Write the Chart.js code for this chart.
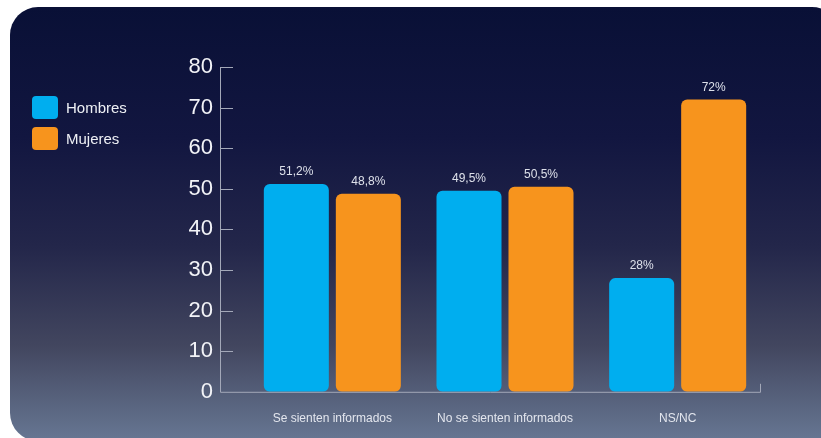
<!DOCTYPE html>
<html>
<head>
<meta charset="utf-8">
<script src="https://cdn.jsdelivr.net/npm/chart.js@4"></script>
<style>
  html, body { margin: 0; padding: 0; background: #fff; }
  #wrap { position: relative; width: 821px; height: 438px; overflow: hidden; }
  #panel {
    position: absolute; left: 10px; top: 7px; width: 830px; height: 434px;
    border-radius: 28px;
    background: linear-gradient(to bottom, #091036 0%, #121640 30%, #23264a 55%, #42465f 78%, #677793 100%);
  }
  #chart { position: absolute; left: 0; top: 0; }
  #legend { position: absolute; left: 32px; top: 96px; font-family: "Liberation Sans", Arial, sans-serif; font-size: 15px; color: #eef0f5; }
  .item { display: flex; align-items: center; height: 23px; margin-bottom: 8px; }
  .box { width: 26px; height: 23px; border-radius: 4px; margin-right: 8px; }
</style>
</head>
<body>
<div id="wrap">
  <div id="panel"></div>
  <canvas id="chart" width="821" height="438"></canvas>
  <div id="legend"></div>
</div>
<script>
var categories = ["Se sienten informados", "No se sienten informados", "NS/NC"];
var hombres = [51.2, 49.5, 28];
var mujeres = [48.8, 50.5, 72];
var yTicks = [0, 10, 20, 30, 40, 50, 60, 70, 80];

var colorH = "#00aeef";
var colorM = "#f7941d";
var axisColor = "#a3a8b8";

function pct(v){
  return String(v).replace(".", ",") + "%";
}

// y axis line, inward ticks and x axis line, drawn off the scales
var axisLines = {
  id: "axisLines",
  afterDraw: function(chart){
    var ctx = chart.ctx, y = chart.scales.y, area = chart.chartArea;
    var x0 = area.left - 26, xEnd = area.right - 4;
    ctx.save();
    ctx.strokeStyle = axisColor;
    ctx.lineWidth = 1;
    ctx.beginPath();
    ctx.moveTo(x0 + 0.5, y.getPixelForValue(80));
    ctx.lineTo(x0 + 0.5, y.getPixelForValue(0) + 0.5);
    ctx.lineTo(xEnd + 0.5, y.getPixelForValue(0) + 0.5);
    ctx.lineTo(xEnd + 0.5, y.getPixelForValue(0) - 8);
    yTicks.forEach(function(t){
      if (t === 0) return;
      var py = Math.round(y.getPixelForValue(t)) + 0.5;
      ctx.moveTo(x0, py);
      ctx.lineTo(x0 + 13, py);
    });
    ctx.stroke();
    ctx.restore();
  }
};

var valueLabels = {
  id: "valueLabels",
  afterDatasetsDraw: function(chart){
    var ctx = chart.ctx;
    ctx.save();
    ctx.font = "12px 'Liberation Sans', Arial, sans-serif";
    ctx.fillStyle = "#dde0ea";
    ctx.textAlign = "center";
    ctx.textBaseline = "bottom";
    chart.data.datasets.forEach(function(ds, i){
      chart.getDatasetMeta(i).data.forEach(function(bar, j){
        ctx.fillText(pct(ds.data[j]), bar.x, bar.y - 6);
      });
    });
    ctx.restore();
  }
};

var chart = new Chart(document.getElementById("chart"), {
  type: "bar",
  data: {
    labels: categories,
    datasets: [
      { label: "Hombres", data: hombres, backgroundColor: colorH },
      { label: "Mujeres", data: mujeres, backgroundColor: colorM }
    ]
  },
  options: {
    responsive: false,
    animation: false,
    layout: { padding: { left: 0, right: 57, top: 67, bottom: 0 } },
    datasets: {
      bar: {
        categoryPercentage: 0.834,
        barPercentage: 0.903,
        borderRadius: 6,
        borderSkipped: false
      }
    },
    plugins: {
      legend: { display: false },
      tooltip: { enabled: false }
    },
    scales: {
      x: {
        afterFit: function(s){ s.height = 46; },
        grid: { display: false, drawTicks: false },
        border: { display: false },
        ticks: {
          color: "#e3e6ee",
          padding: 20,
          maxRotation: 0,
          font: { family: "'Liberation Sans', Arial, sans-serif", size: 12 }
        }
      },
      y: {
        min: 0,
        max: 80,
        afterFit: function(s){ s.width = 246; },
        afterBuildTicks: function(s){ s.ticks = yTicks.map(function(v){ return { value: v }; }); },
        grid: { display: false, drawTicks: false },
        border: { display: false },
        ticks: {
          color: "#f2f3f7",
          padding: 33,
          font: { family: "'Liberation Sans', Arial, sans-serif", size: 22 }
        }
      }
    }
  },
  plugins: [axisLines, valueLabels]
});

var legend = document.getElementById("legend");
chart.data.datasets.forEach(function(ds){
  var item = document.createElement("div");
  item.className = "item";
  var box = document.createElement("div");
  box.className = "box";
  box.style.background = ds.backgroundColor;
  var txt = document.createElement("span");
  txt.textContent = ds.label;
  item.appendChild(box);
  item.appendChild(txt);
  legend.appendChild(item);
});
</script>
</body>
</html>
